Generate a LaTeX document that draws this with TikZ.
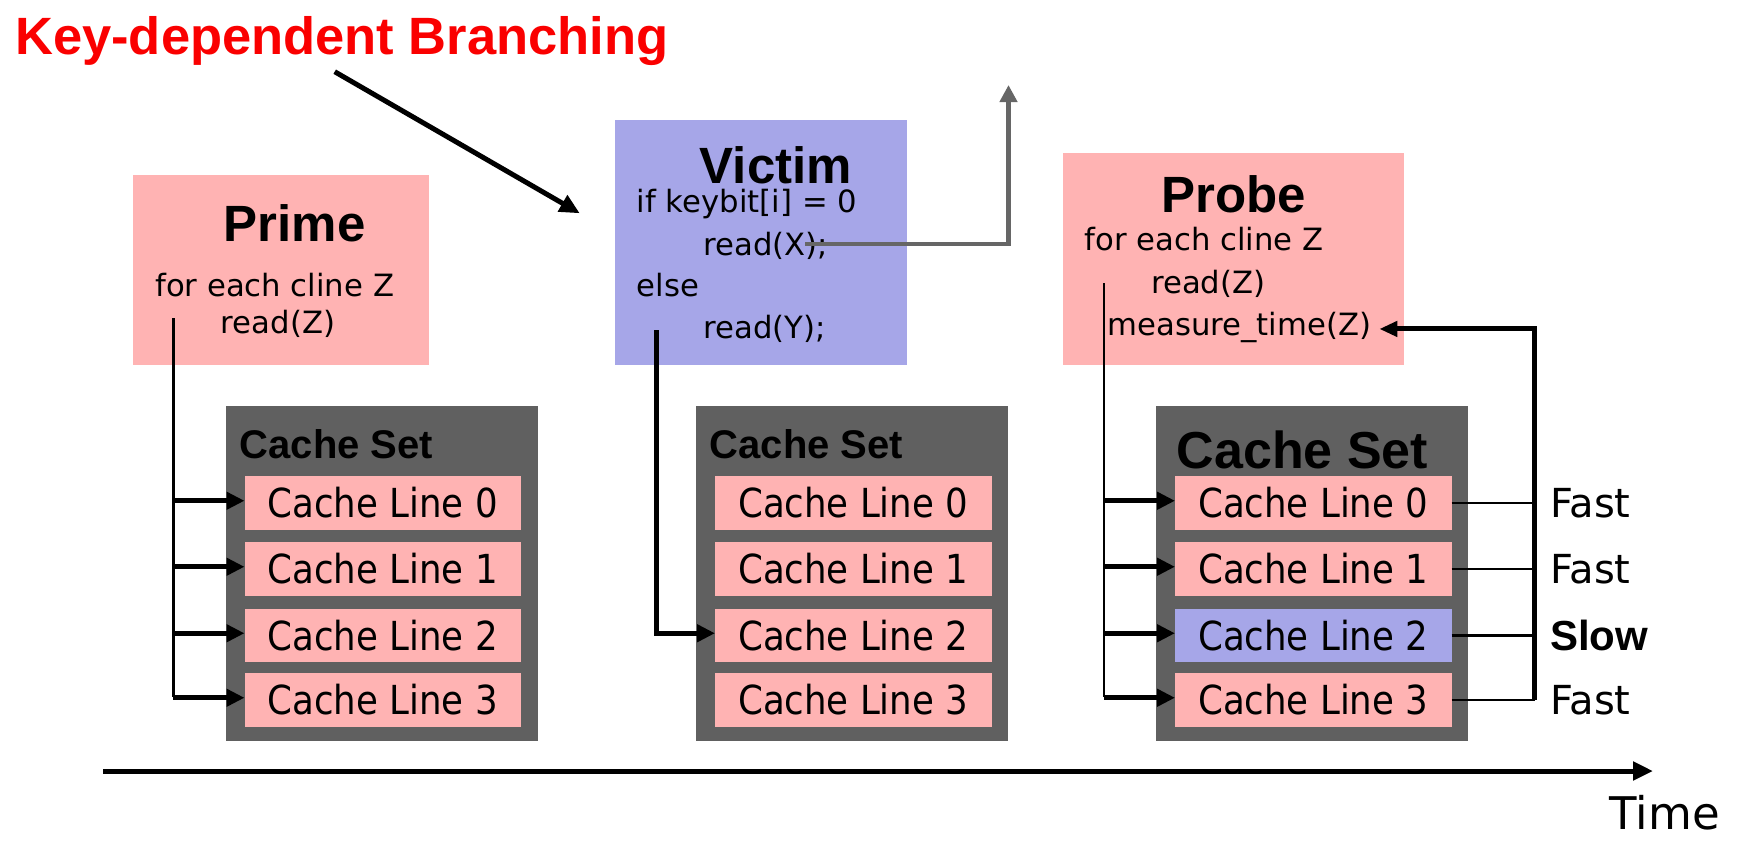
\documentclass[tikz,border=0pt]{standalone}
\usepackage{fontspec}
\setmainfont{DejaVu Sans}
\newfontfamily\hdfont{Liberation Sans}
\newfontfamily\clfont{DejaVu Sans}[FakeStretch=0.89]
\usetikzlibrary{arrows.meta}
\definecolor{pinkc}{RGB}{255,179,179}
\definecolor{bluec}{RGB}{166,166,232}
\definecolor{setgray}{RGB}{96,96,96}
\definecolor{arrgray}{RGB}{102,102,102}
\definecolor{titlered}{RGB}{250,0,0}
\tikzset{
  panel/.style={inner sep=0pt, outer sep=0pt, anchor=north west},
  pinkpanel/.style={panel, fill=pinkc},
  bluepanel/.style={panel, fill=bluec},
  setbox/.style={panel, fill=setgray, minimum width=311.5pt, minimum height=335pt},
  cline/.style={panel, fill=pinkc, minimum width=276.5pt, minimum height=53.5pt, font=\clfont\fontsize{40}{48}\selectfont},
  head/.style={inner sep=0pt, anchor=base, font=\hdfont\bfseries\fontsize{51}{60}\selectfont},
  code/.style={inner sep=0pt, anchor=base west, font=\fontsize{30.7}{36}\selectfont},
  setlabel/.style={inner sep=0pt, anchor=base west, font=\hdfont\bfseries\fontsize{40}{48}\selectfont},
  speedlbl/.style={inner sep=0pt, anchor=west, font=\fontsize{40}{48}\selectfont},
  wire/.style={line width=2.5pt},
  fatline/.style={line width=5pt},
  fatarrow/.style={line width=5pt, -{Triangle[length=18pt,width=17pt]}},
}
\begin{document}
\begin{tikzpicture}[x=1pt,y=-1pt]
\useasboundingbox (0,0) rectangle (1738,854);

% title and its arrow
\node[inner sep=0pt, anchor=base west, text=titlered, font=\hdfont\bfseries\fontsize{52.5}{60}\selectfont] (title) at (15,54) {Key-dependent Branching};
\coordinate (ts) at (334.7,71.7);
\coordinate (te) at (579.8,213.3);
\draw[fatline, -{Triangle[length=20pt,width=18pt]}] (ts) -- (te);

% panels
\node[pinkpanel, minimum width=296pt, minimum height=190pt] (prime) at (133,175) {};
\node[bluepanel, minimum width=292pt, minimum height=245pt] (victim) at (615,120) {};
\node[pinkpanel, minimum width=341pt, minimum height=212pt] (probe) at (1063,153) {};

% panel texts
\node[head] (primeT) at (294.5,241.7) {Prime};
\node[code] (p1) at (155,296) {for each cline Z};
\node[code] (p2) at (220.7,333) {read(Z)};

\node[head] (victimT) at (775.8,183.3) {Victim};
\node[code] (v1) at (636.7,212.7) {if keybit[i] = 0};
\node[code] (v2) at (703.3,255.7) {read(X);};
\node[code] (v3) at (636.7,296.7) {else};
\node[code] (v4) at (703.3,338.3) {read(Y);};

\node[head] (probeT) at (1233.5,212.7) {Probe};
\node[code] (q1) at (1084.4,250.7) {for each cline Z};
\node[code] (q2) at (1151,293.3) {read(Z)};
\node[code] (q3) at (1107.4,335) {measure\_time(Z)};

% grey arrow out of read(X)
\coordinate (gx) at (805,244);
\coordinate (gup) at (1008.5,85);
\draw[line width=4.5pt, arrgray, -{Triangle[length=17pt,width=17pt]}] (gx) -| (gup);

% cache sets
\node[setbox] (s1) at (226,406) {};
\node[setbox] (s2) at (696,406) {};
\node[setbox, minimum width=312.5pt] (s3) at (1155.5,406) {};
\node[setlabel] (s1l) at (239.5,458.3) {Cache Set};
\node[setlabel] (s2l) at (709.5,458.3) {Cache Set};
\node[setlabel, font=\hdfont\bfseries\fontsize{52}{60}\selectfont] (s3l) at (1176.5,468.3) {Cache Set};

\foreach \s/\x in {a/244.5, b/715} {
  \foreach \i/\y in {0/476, 1/542, 2/608.5, 3/673} {
    \node[cline] (\s\i) at (\x,\y) {Cache Line \i};
  }
}
\node[cline] (c0) at (1175,476) {Cache Line 0};
\node[cline] (c1) at (1175,542) {Cache Line 1};
\node[cline, fill=bluec] (c2) at (1175,608.5) {Cache Line 2};
\node[cline] (c3) at (1175,673) {Cache Line 3};

% prime accesses
\coordinate (pv) at (173.3,318);
\draw[wire] (pv) -- ([yshift=2.5pt]pv |- a3.west);
\foreach \i in {0,...,3} \draw[fatarrow] ([yshift=2pt]pv |- a\i.west) -- ([yshift=2pt]a\i.west);

% victim access
\coordinate (vv) at (656.6,330);
\draw[fatarrow] (vv) |- ([yshift=2pt]b2.west);

% probe accesses
\coordinate (qv) at (1104,283);
\draw[wire] (qv) -- ([yshift=2.5pt]qv |- c3.west);
\foreach \i in {0,...,3} \draw[fatarrow] ([yshift=2pt]qv |- c\i.west) -- ([yshift=2pt]c\i.west);

% timing feedback
\coordinate (fb) at (1534.5,700);
\foreach \i in {0,...,3} \draw[wire] (c\i.east) -- (c\i.east -| fb);
\draw[fatline, -{Triangle[length=18pt,width=15pt]}] (fb) |- ([xshift=8pt,yshift=-2pt]q3.east);

\node[speedlbl] (f0) at ([xshift=98.5pt]c0.east) {Fast};
\node[speedlbl] (f1) at ([xshift=98.5pt]c1.east) {Fast};
\node[speedlbl, font=\hdfont\bfseries\fontsize{42}{48}\selectfont] (f2) at ([xshift=98.5pt]c2.east) {Slow};
\node[speedlbl] (f3) at ([xshift=98.5pt]c3.east) {Fast};

% time axis
\coordinate (t0) at (103,771);
\coordinate (t1) at (1653,771);
\draw[fatline, -{Triangle[length=20pt,width=18pt]}] (t0) -- (t1);
\node[inner sep=0pt, anchor=base west, font=\fontsize{45}{54}\selectfont] (time) at (1609.6,829) {Time};
\end{tikzpicture}
\end{document}
